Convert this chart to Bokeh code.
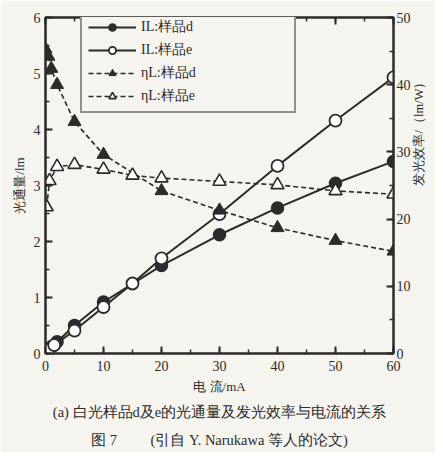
import math
from bokeh.plotting import figure
from bokeh.models import (Range1d, LinearAxis, SingleIntervalTicker, Legend, LegendItem, Title)
from bokeh.embed import file_html
from bokeh.resources import INLINE

# ---- data ----
x_IL_d = [0, 1, 2, 5, 10, 20, 30, 40, 50, 60]
IL_d = [0.02, 0.12, 0.21, 0.5, 0.92, 1.57, 2.12, 2.6, 3.04, 3.43]
x_IL_e = [0, 0.5, 1.5, 5, 10, 15, 20, 30, 40, 50, 60]
IL_e = [0.01, 0.06, 0.15, 0.41, 0.83, 1.25, 1.7, 2.49, 3.35, 4.16, 4.93]
x_eta_d = [0, 0.5, 1, 2, 5, 10, 20, 30, 40, 50, 60]
eta_d = [45.3, 44.2, 42.4, 40.0, 34.5, 29.6, 24.2, 21.3, 18.7, 16.8, 15.2]
x_eta_e = [0.2, 0.7, 2, 5, 10, 15, 20, 30, 40, 50, 60]
eta_e = [21.8, 25.7, 27.8, 28.1, 27.4, 26.5, 26.1, 25.6, 25.1, 24.2, 23.7]

labels = ["IL:样品d", "IL:样品e", "ηL:样品d", "ηL:样品e"]
x_label = "电 流/mA"
y_label = "光通量/lm"
y2_label = "发光效率/（lm/W）"
caption1 = "(a) 白光样品d及e的光通量及发光效率与电流的关系"
caption2 = "图\u00a07\u3000\u3000\u00a0(引自 Y. Narukawa 等人的论文)"

INK = "#2b2b2b"
BG = "#f6f4ef"
FONT = "Liberation Serif"

p = figure(width=435, height=452, output_backend="svg", toolbar_location=None,
           x_range=Range1d(0, 60), y_range=Range1d(0, 6),
           min_border_left=45, min_border_right=42, min_border_top=17, min_border_bottom=90,
           background_fill_color=BG, border_fill_color=BG)
p.extra_y_ranges = {"eta": Range1d(0, 50)}
p.grid.visible = False
p.outline_line_color = INK
p.outline_line_width = 2

def style_axis(ax):
    ax.axis_line_color = INK
    ax.axis_line_width = 2
    ax.major_tick_line_color = INK
    ax.minor_tick_line_color = INK
    ax.major_tick_line_width = 2
    ax.minor_tick_line_width = 1.5
    ax.major_tick_in = 7
    ax.major_tick_out = 0
    ax.minor_tick_in = 4
    ax.minor_tick_out = 0
    ax.major_label_text_font = FONT
    ax.major_label_text_font_size = "14px"
    ax.major_label_text_color = INK
    ax.axis_label_text_font = FONT
    ax.axis_label_text_font_size = "13px"
    ax.axis_label_text_font_style = "normal"
    ax.axis_label_text_color = INK

p.xaxis.ticker = SingleIntervalTicker(interval=10, num_minor_ticks=2)
p.yaxis.ticker = SingleIntervalTicker(interval=1, num_minor_ticks=2)
p.xaxis.axis_label = x_label
p.yaxis.axis_label = y_label
style_axis(p.xaxis[0])
style_axis(p.yaxis[0])
p.xaxis.axis_label_standoff = 5
p.yaxis.axis_label_standoff = 4
p.xaxis.major_label_standoff = 7

ry = LinearAxis(y_range_name="eta", ticker=SingleIntervalTicker(interval=10, num_minor_ticks=2),
                axis_label=y2_label)
style_axis(ry)
ry.major_label_standoff = 3
ry.axis_label_standoff = 5
ry.axis_label_orientation = math.pi / 2
ry.axis_label_text_align = "center"
ry.axis_label_text_font_size = "12.5px"
p.add_layout(ry, "right")

top = LinearAxis(ticker=SingleIntervalTicker(interval=10, num_minor_ticks=2))
style_axis(top)
top.major_label_text_alpha = 0
top.major_label_text_font_size = "1px"
p.add_layout(top, "above")

# series
l1 = p.line(x_IL_d, IL_d, line_color=INK, line_width=2)
s1 = p.scatter(x_IL_d, IL_d, marker="circle", size=12, fill_color=INK, line_color=INK, line_width=1.5)
l2 = p.line(x_IL_e, IL_e, line_color=INK, line_width=2)
s2 = p.scatter(x_IL_e, IL_e, marker="circle", size=12, fill_color="white", line_color=INK, line_width=1.8)
l3 = p.line(x_eta_d, eta_d, y_range_name="eta", line_color=INK, line_width=1.6, line_dash="5 3")
s3 = p.scatter(x_eta_d, eta_d, y_range_name="eta", marker="triangle", size=13, fill_color=INK, line_color=INK)
l4 = p.line(x_eta_e, eta_e, y_range_name="eta", line_color=INK, line_width=1.6, line_dash="5 3")
s4 = p.scatter(x_eta_e, eta_e, y_range_name="eta", marker="triangle", size=13, fill_color="white", line_color=INK, line_width=1.6)

legend = Legend(items=[LegendItem(label=labels[0], renderers=[l1, s1]),
                       LegendItem(label=labels[1], renderers=[l2, s2]),
                       LegendItem(label=labels[2], renderers=[l3, s3]),
                       LegendItem(label=labels[3], renderers=[l4, s4])],
                location=(35, 240))
legend.border_line_color = INK
legend.border_line_width = 2.5
legend.background_fill_color = BG
legend.background_fill_alpha = 1
legend.label_text_font = FONT
legend.label_text_font_size = "14px"
legend.label_text_color = INK
legend.glyph_width = 48
legend.glyph_height = 18
legend.label_height = 18
legend.label_standoff = 5
legend.spacing = 5
legend.padding = 6
legend.margin = 0
legend.label_width = 147
p.add_layout(legend, "center")

t1 = Title(text=caption1, align="center", text_font=FONT, text_font_size="14.5px",
           text_font_style="normal", text_color=INK)
t2 = Title(text=caption2, align="center", text_font=FONT, text_font_size="14.5px",
           text_font_style="normal", text_color=INK)
p.add_layout(t1, "below")
p.add_layout(t2, "below")

open("out.html", "w").write(file_html(p, INLINE))
